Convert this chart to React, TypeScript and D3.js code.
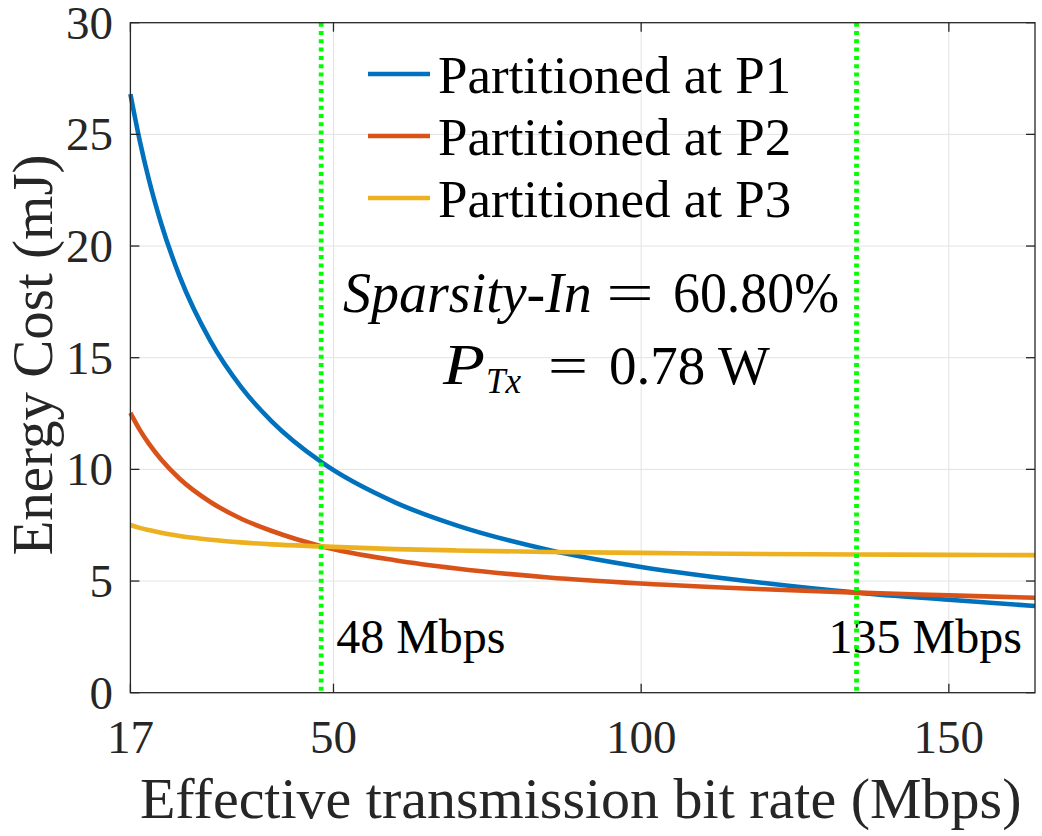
import React, { useEffect, useRef } from "react";
import * as d3 from "d3";

// values
const rates = [17, 18.5, 20, 22, 25, 30, 35, 40, 48, 60, 70, 85, 100, 120, 135, 150, 164];
const energyP1 = [26.8, 24.74, 22.98, 21.01, 18.64, 15.75, 13.68, 12.14, 10.33, 8.52, 7.49, 6.39, 5.63, 4.91, 4.48, 4.16, 3.88];
const energyP2 = [12.53, 11.78, 11.15, 10.44, 9.58, 8.54, 7.79, 7.24, 6.56, 5.93, 5.56, 5.16, 4.89, 4.63, 4.48, 4.36, 4.25];
const energyP3 = [7.51, 7.38, 7.28, 7.16, 7.02, 6.85, 6.73, 6.64, 6.55, 6.43, 6.37, 6.3, 6.26, 6.21, 6.19, 6.17, 6.16];

const seriesNames = ["Partitioned at P1", "Partitioned at P2", "Partitioned at P3"];
const seriesColors = ["#0072BD", "#D95319", "#EDB120"];

const xTicks = [17, 50, 100, 150];
const yTicks = [0, 5, 10, 15, 20, 25, 30];
const markerRates = [48, 135];
const markerLabels = ["48 Mbps", "135 Mbps"];

const WIDTH = 1042;
const HEIGHT = 836;
const FONT = "Liberation Serif, Times New Roman, serif";

function App() {
  const ref = useRef<SVGSVGElement | null>(null);

  useEffect(() => {
    const svg = d3.select(ref.current);
    svg.selectAll("*").remove();

    const left = 130.4;
    const right = 1035;
    const top = 22.7;
    const bottom = 692.7;

    const x = d3.scaleLinear().domain([17, 164]).range([left, right]);
    const y = d3.scaleLinear().domain([0, 30]).range([bottom, top]);

    // little helper for plain text
    const addText = (tx: number, ty: number, str: string, size: number, italic = false) =>
      svg
        .append("text")
        .attr("x", tx)
        .attr("y", ty)
        .attr("font-family", FONT)
        .attr("font-size", size)
        .attr("font-style", italic ? "italic" : "normal")
        .attr("fill", "#000")
        .text(str);

    // grid
    const grid = svg.append("g").attr("stroke", "#e3e3e3").attr("stroke-width", 1);
    xTicks.filter((t) => t > 17).forEach((t) => {
      grid.append("line").attr("x1", x(t)).attr("x2", x(t)).attr("y1", top).attr("y2", bottom);
    });
    yTicks.filter((t) => t > 0 && t < 30).forEach((t) => {
      grid.append("line").attr("x1", left).attr("x2", right).attr("y1", y(t)).attr("y2", y(t));
    });

    // curves
    const series = [energyP1, energyP2, energyP3];
    const line = d3
      .line<number>()
      .x((_, i) => x(rates[i]))
      .y((d) => y(d))
      .curve(d3.curveMonotoneX);

    series.forEach((vals, k) => {
      svg
        .append("path")
        .datum(vals)
        .attr("fill", "none")
        .attr("stroke", seriesColors[k])
        .attr("stroke-width", 4.6)
        .attr("d", line);
    });

    // rate labels
    markerLabels.forEach((label, i) => {
      addText(i === 0 ? x(markerRates[i]) + 15 : x(markerRates[i]) - 28, 653, label, 48);
    });

    // green dotted markers
    markerRates.forEach((r) => {
      svg
        .append("line")
        .attr("x1", x(r))
        .attr("x2", x(r))
        .attr("y1", top)
        .attr("y2", bottom)
        .attr("stroke", "#00ff00")
        .attr("stroke-width", 4.8)
        .attr("stroke-dasharray", "4 4.3");
    });

    // legend
    seriesNames.forEach((name, i) => {
      const ly = 74 + i * 62;
      svg
        .append("line")
        .attr("x1", 368)
        .attr("x2", 430)
        .attr("y1", ly)
        .attr("y2", ly)
        .attr("stroke", seriesColors[i])
        .attr("stroke-width", 4.6);
      addText(438, ly + 18.5, name, 53);
    });

    // annotation, laid out piece by piece like the LaTeX text
    addText(343, 312, "Sparsity-In", 56, true);
    addText(606, 312, "=", 56).attr("textLength", 48).attr("lengthAdjust", "spacingAndGlyphs");
    addText(673, 312, "60.80%", 56).attr("textLength", 166).attr("lengthAdjust", "spacingAndGlyphs");

    addText(443, 384, "P", 56, true).attr("textLength", 42).attr("lengthAdjust", "spacingAndGlyphs");
    addText(486, 393, "Tx", 35, true);
    addText(548, 384, "=", 55).attr("textLength", 40).attr("lengthAdjust", "spacingAndGlyphs");
    addText(609, 384, "0.78", 55);
    addText(718, 384, "W", 55);

    // axis box and inside ticks
    const axis = svg.append("g").attr("stroke", "#262626").attr("stroke-width", 1.3);
    axis
      .append("rect")
      .attr("x", left)
      .attr("y", top)
      .attr("width", right - left)
      .attr("height", bottom - top)
      .attr("fill", "none");
    xTicks.forEach((t) => {
      axis.append("line").attr("x1", x(t)).attr("x2", x(t)).attr("y1", bottom).attr("y2", bottom - 9);
      axis.append("line").attr("x1", x(t)).attr("x2", x(t)).attr("y1", top).attr("y2", top + 9);
    });
    yTicks.forEach((t) => {
      axis.append("line").attr("x1", left).attr("x2", left + 9).attr("y1", y(t)).attr("y2", y(t));
      axis.append("line").attr("x1", right).attr("x2", right - 9).attr("y1", y(t)).attr("y2", y(t));
    });

    // tick labels
    xTicks.forEach((t) => {
      svg
        .append("text")
        .attr("x", x(t))
        .attr("y", 753)
        .attr("text-anchor", "middle")
        .attr("font-family", FONT)
        .attr("font-size", 47)
        .attr("fill", "#262626")
        .text(t);
    });
    yTicks.forEach((t) => {
      svg
        .append("text")
        .attr("x", 113)
        .attr("y", y(t))
        .attr("dy", "0.34em")
        .attr("text-anchor", "end")
        .attr("font-family", FONT)
        .attr("font-size", 47)
        .attr("fill", "#262626")
        .text(t);
    });

    // axis titles
    svg
      .append("text")
      .attr("x", (left + right) / 2 - 2)
      .attr("y", 818)
      .attr("text-anchor", "middle")
      .attr("font-family", FONT)
      .attr("font-size", 58)
      .attr("fill", "#262626")
      .text("Effective transmission bit rate (Mbps)");

    svg
      .append("text")
      .attr("transform", "translate(52, 355) rotate(-90)")
      .attr("text-anchor", "middle")
      .attr("font-family", FONT)
      .attr("font-size", 57)
      .attr("fill", "#262626")
      .text("Energy Cost (mJ)");
  });

  return (
    <svg
      ref={ref}
      width={WIDTH}
      height={HEIGHT}
      style={{ position: "absolute", left: 0, top: 0, background: "#fff" }}
    />
  );
}

export default App;
